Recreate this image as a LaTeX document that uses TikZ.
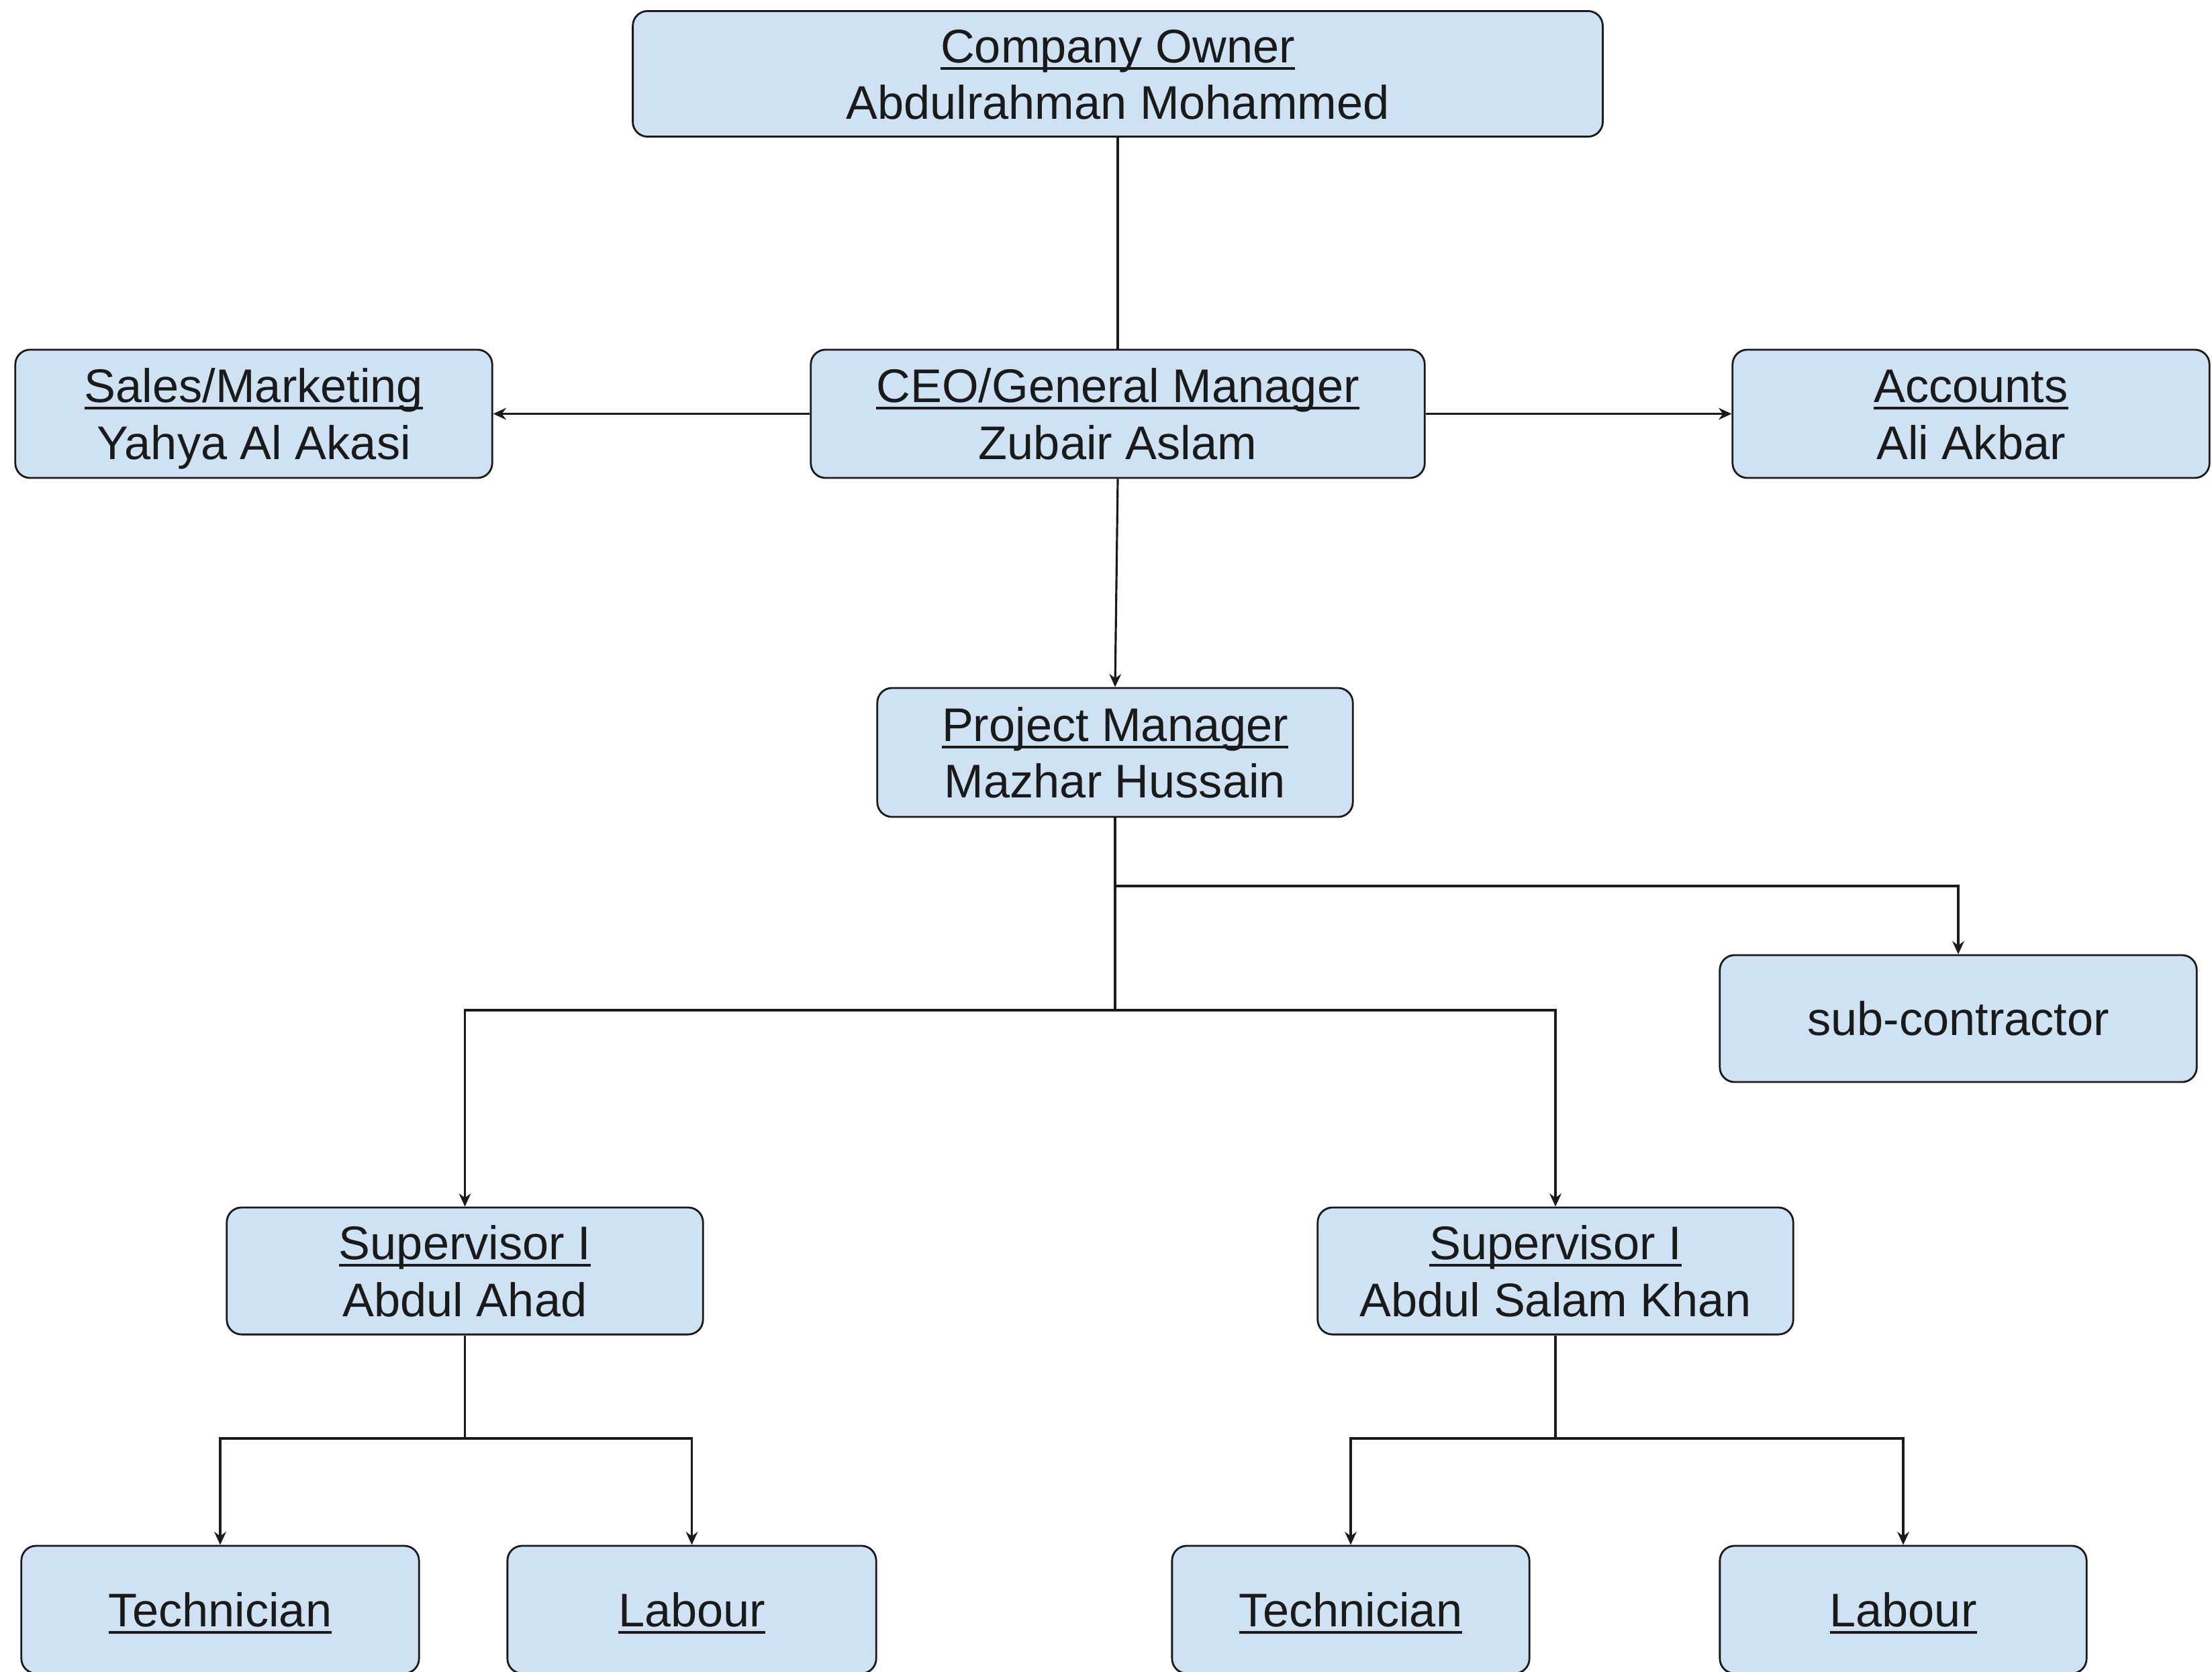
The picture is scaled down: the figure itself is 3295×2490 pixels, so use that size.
\documentclass[tikz,border=0pt]{standalone}
\usepackage{fontspec}
\setmainfont{Liberation Sans}
\usetikzlibrary{arrows.meta}
\definecolor{boxfill}{HTML}{CFE2F3}
\definecolor{ink}{HTML}{1A1A1A}
\newcommand\ulx[1]{\setbox0\hbox{#1}\rlap{\rule[-3pt]{\wd0}{1.1pt}}\box0}
\newcommand\mystrut{\rule[-4.8pt]{0pt}{24pt}}
\newcommand\twol[2]{\ulx{#1}\mystrut\\#2\mystrut}
\newcommand\onel[1]{#1\mystrut}
\tikzset{
  orgbox/.style={draw=ink, line width=0.8pt, fill=boxfill, rounded corners=0.22cm,
    inner sep=0pt, align=center, text=ink,
    font=\fontsize{20}{24}\selectfont},
  conn/.style={draw=ink, line width=0.9pt},
  arr/.style={conn, -{Stealth[length=5.5pt,width=5pt]}}
}
\begin{document}
\begin{tikzpicture}[x=0.01cm,y=-0.01cm]
\useasboundingbox (0,0) rectangle (3295,2490);
\node[orgbox, minimum width=14.44cm, minimum height=1.87cm] (owner) at (1665,110) {\twol{Company Owner}{Abdulrahman Mohammed}};
\node[orgbox, minimum width=7.10cm, minimum height=1.91cm] (sales) at (378,616.5) {\twol{Sales/Marketing}{Yahya Al Akasi}};
\node[orgbox, minimum width=9.14cm, minimum height=1.91cm] (ceo) at (1665,616.5) {\twol{CEO/General Manager}{Zubair Aslam}};
\node[orgbox, minimum width=7.10cm, minimum height=1.91cm] (acc) at (2936,616.5) {\twol{Accounts}{Ali Akbar}};
\node[orgbox, minimum width=7.08cm, minimum height=1.92cm] (pm) at (1661,1121) {\twol{Project Manager}{Mazhar Hussain}};
\node[orgbox, minimum width=7.10cm, minimum height=1.89cm] (sub) at (2917,1517.5) {\onel{sub-contractor}};
\node[orgbox, minimum width=7.09cm, minimum height=1.89cm] (sup1) at (692.5,1893.5) {\twol{Supervisor I}{Abdul Ahad}};
\node[orgbox, minimum width=7.08cm, minimum height=1.89cm] (sup2) at (2317,1893.5) {\twol{Supervisor I}{Abdul Salam Khan}};
\node[orgbox, minimum width=5.92cm, minimum height=1.90cm] (tech1) at (328,2398) {\onel{\ulx{Technician}}};
\node[orgbox, minimum width=5.49cm, minimum height=1.90cm] (lab1) at (1030.5,2398) {\onel{\ulx{Labour}}};
\node[orgbox, minimum width=5.32cm, minimum height=1.90cm] (tech2) at (2012,2398) {\onel{\ulx{Technician}}};
\node[orgbox, minimum width=5.46cm, minimum height=1.90cm] (lab2) at (2835,2398) {\onel{\ulx{Labour}}};
\coordinate (j1) at (1661,1320);
\coordinate (j2) at (1661,1505);
\coordinate (j3) at (692.5,2143);
\coordinate (j4) at (2317,2143);
\draw[conn] (owner.south) -- (ceo.north);
\draw[arr] (ceo.west) -- (sales.east);
\draw[arr] (ceo.east) -- (acc.west);
\draw[arr] (ceo.south) -- (pm.north);
\draw[conn] (pm.south) -- (j1);
\draw[arr] (j1) -| (sub.north);
\draw[conn] (j1) -- (j2);
\draw[arr] (j2) -| (sup1.north);
\draw[arr] (j2) -| (sup2.north);
\draw[conn] (sup1.south) -- (j3);
\draw[arr] (j3) -| (tech1.north);
\draw[arr] (j3) -| (lab1.north);
\draw[conn] (sup2.south) -- (j4);
\draw[arr] (j4) -| (tech2.north);
\draw[arr] (j4) -| (lab2.north);
\end{tikzpicture}
\end{document}
